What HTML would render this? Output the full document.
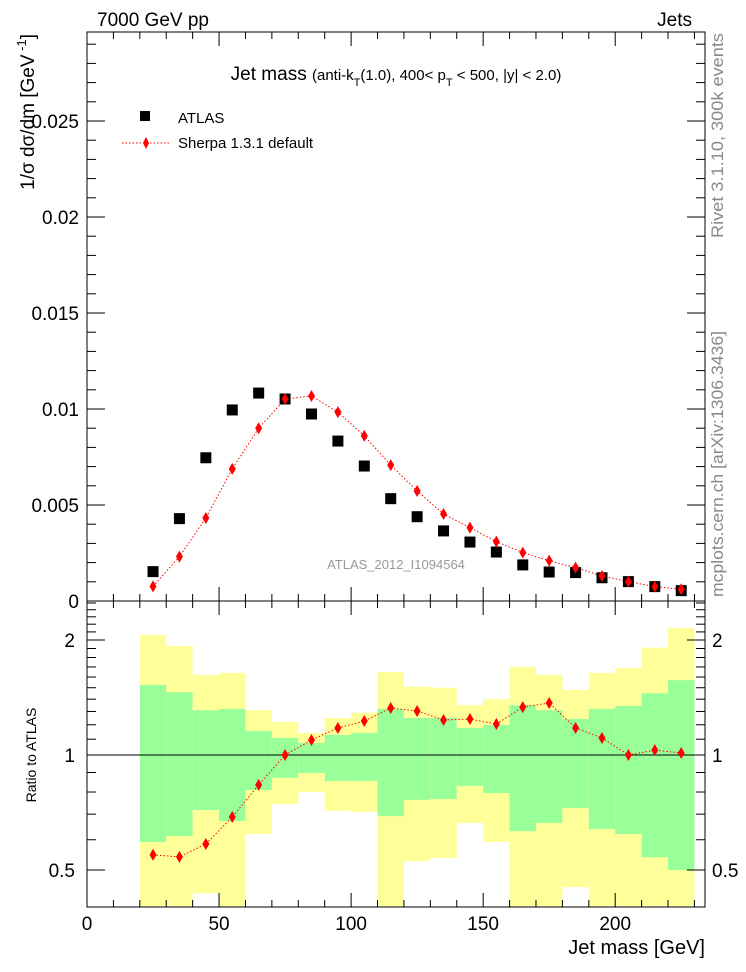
<!DOCTYPE html>
<html><head><meta charset="utf-8">
<style>
html,body{margin:0;padding:0;background:#fff;}
svg{display:block;font-family:"Liberation Sans",Arial,sans-serif;}
</style></head>
<body>
<svg id="chart" width="746" height="972" viewBox="0 0 746 972" xmlns="http://www.w3.org/2000/svg">
  <g id="bands"></g>
  <g id="grid"></g>
  <g id="marks"></g>
  <text x="97" y="26" font-size="19">7000 GeV pp</text>
  <text x="692" y="26" font-size="19" text-anchor="end">Jets</text>
  <text x="396" y="80" font-size="19" text-anchor="middle">Jet mass <tspan font-size="15">(anti-k<tspan dy="6" font-size="11">T</tspan><tspan dy="-6">(1.0), 400&lt; p</tspan><tspan dy="6" font-size="11">T</tspan><tspan dy="-6"> &lt; 500, |y| &lt; 2.0)</tspan></tspan></text>
  <rect x="140" y="111" width="10" height="10" fill="#000"/>
  <text x="178" y="123" font-size="15">ATLAS</text>
  <line x1="122" y1="143" x2="170" y2="143" stroke="red" stroke-dasharray="1.5,2"/>
  <polygon points="146,137 149,143 146,149 143,143" fill="red"/>
  <text x="178" y="148" font-size="15">Sherpa 1.3.1 default</text>
  <text x="396" y="569" font-size="13" fill="#999" text-anchor="middle">ATLAS_2012_I1094564</text>
  <text transform="translate(723,238) rotate(-90)" font-size="16.5" fill="#888" textLength="205" lengthAdjust="spacingAndGlyphs">Rivet 3.1.10,  300k events</text>
  <text transform="translate(723,597) rotate(-90)" font-size="16.5" fill="#888" textLength="266" lengthAdjust="spacingAndGlyphs">mcplots.cern.ch [arXiv:1306.3436]</text>
  <text transform="translate(34,34) rotate(-90)" font-size="19" text-anchor="end">1/σ dσ/dm [GeV<tspan dy="-8" font-size="13"> -1</tspan><tspan dy="8">]</tspan></text>
  <text transform="translate(36,755) rotate(-90)" font-size="14" text-anchor="middle">Ratio to ATLAS</text>
  <text x="705" y="954" font-size="20" text-anchor="end">Jet mass [GeV]</text>
</svg>
<script>
const binLo = [20,30,40,50,60,70,80,90,100,110,120,130,140,150,160,170,180,190,200,210,220];
const atlas = [0.00153,0.00429,0.00746,0.00995,0.01083,0.01052,0.00974,0.00833,0.00703,0.00533,0.00439,0.00365,0.00307,0.00255,0.00188,0.00151,0.00148,0.00121,0.00101,0.00075,0.00054];
const sherpa = [0.00076,0.00231,0.00432,0.00688,0.00900,0.01052,0.01068,0.00984,0.00860,0.00708,0.00573,0.00453,0.00382,0.00309,0.00252,0.00210,0.00174,0.00130,0.00101,0.00075,0.00061];
const ratio = [0.548,0.541,0.585,0.688,0.835,1.0,1.095,1.177,1.227,1.327,1.304,1.235,1.242,1.205,1.335,1.368,1.177,1.108,1.0,1.03,1.012];
const yellowHi = [2.06,1.93,1.62,1.64,1.31,1.22,1.142,1.25,1.29,1.65,1.51,1.50,1.35,1.40,1.70,1.62,1.48,1.64,1.69,1.91,2.15];
const greenHi = [1.525,1.46,1.31,1.32,1.156,1.108,1.075,1.128,1.142,1.32,1.25,1.25,1.177,1.198,1.35,1.31,1.242,1.32,1.344,1.45,1.57];
const greenLo = [0.592,0.614,0.718,0.672,0.81,0.871,0.897,0.855,0.855,0.692,0.763,0.767,0.83,0.795,0.632,0.664,0.726,0.64,0.621,0.54,0.50];
const yellowLo = [0.38,0.38,0.435,0.38,0.621,0.744,0.80,0.714,0.71,0.38,0.528,0.537,0.664,0.592,0.38,0.38,0.451,0.38,0.38,0.38,0.38];
const xTicks = [0,50,100,150,200];
const yTicks = [0,0.005,0.01,0.015,0.02,0.025];
const yTickLabels = ["0","0.005","0.01","0.015","0.02","0.025"];
const rTicks = [0.5,1,2];
const rTickLabels = ["0.5","1","2"];

const L=87,R=705,T=32,MB=601,RB=907;
const xs=v=>L+(v/234)*(R-L);
const ys=v=>MB-v/0.005*96;
const rs=v=>755-115*Math.log2(v);
const NS="http://www.w3.org/2000/svg";
function mk(parent,tag,attrs){const e=document.createElementNS(NS,tag);for(const k in attrs)e.setAttribute(k,attrs[k]);parent.appendChild(e);return e;}
const bands=document.getElementById('bands'),grid=document.getElementById('grid'),marks=document.getElementById('marks');
const clipR=v=>Math.min(Math.max(v,0.402),2.53);
binLo.forEach((lo,i)=>{
  const x0=xs(lo),x1=xs(lo+10);
  const y=mk(bands,'rect',{x:x0,y:rs(clipR(yellowHi[i])),width:x1-x0,height:rs(clipR(yellowLo[i]))-rs(clipR(yellowHi[i])),fill:'#ffff99'});
  
  
  const g=mk(bands,'rect',{x:x0,y:rs(clipR(greenHi[i])),width:x1-x0,height:rs(clipR(greenLo[i]))-rs(clipR(greenHi[i])),fill:'#99ff99'});
  
  
});
mk(grid,'rect',{x:L,y:T,width:R-L,height:MB-T,fill:'none',stroke:'#000','stroke-width':1});
mk(grid,'rect',{x:L,y:MB,width:R-L,height:RB-MB,fill:'none',stroke:'#000','stroke-width':1});
mk(grid,'line',{x1:L,x2:R,y1:rs(1),y2:rs(1),stroke:'#000','stroke-width':1});
for(let v=0;v<=230;v+=10){
  const x=xs(v),len=v%50===0?14:7;
  [[T,1],[MB,-1],[MB,1],[RB,-1]].forEach(([y0,d])=>mk(grid,'line',{x1:x,x2:x,y1:y0,y2:y0+d*len,stroke:'#000'}));
}
xTicks.forEach(v=>{const t=mk(grid,'text',{x:xs(v),y:930,'font-size':19,'text-anchor':'middle'});t.textContent=v;

});
for(let k=0;k<=29;k++){
  const v=k*0.001,y=ys(v),len=k%5===0?18:9;
  mk(grid,'line',{x1:L,x2:L+len,y1:y,y2:y,stroke:'#000'});
  mk(grid,'line',{x1:R,x2:R-len,y1:y,y2:y,stroke:'#000'});
}
yTicks.forEach((v,i)=>{const t=mk(grid,'text',{x:79,y:ys(v)+7,'font-size':19,'text-anchor':'end'});t.textContent=yTickLabels[i];

});
const rminor=[0.5,0.6,0.7,0.8,0.9,1,1.1,1.2,1.3,1.4,1.5,1.6,1.7,1.8,1.9,2,2.1,2.2,2.3,2.4,2.5];
rminor.forEach(v=>{const y=rs(v),len=(v===0.5||v===1||v===2)?18:9;
  mk(grid,'line',{x1:L,x2:L+len,y1:y,y2:y,stroke:'#000'});
  mk(grid,'line',{x1:R,x2:R-len,y1:y,y2:y,stroke:'#000'});});
rTicks.forEach((v,i)=>{
  const t=mk(grid,'text',{x:75,y:rs(v)+7,'font-size':19,'text-anchor':'end'});t.textContent=rTickLabels[i];
  
  
  const t2=mk(grid,'text',{x:712,y:rs(v)+7,'font-size':19});t2.textContent=rTickLabels[i];
  
  
});
function diamond(x,y,name){const p=mk(marks,'polygon',{points:`${x},${y-6} ${x+3.5},${y} ${x},${y+6} ${x-3.5},${y}`,fill:'red'});

}
const mids=binLo.map(v=>v+5);
mk(marks,'polyline',{points:mids.map((m,i)=>xs(m)+','+ys(sherpa[i])).join(' '),fill:'none',stroke:'red','stroke-dasharray':'1.5,2'});
mk(marks,'polyline',{points:mids.map((m,i)=>xs(m)+','+rs(ratio[i])).join(' '),fill:'none',stroke:'red','stroke-dasharray':'1.5,2'});
mids.forEach((m,i)=>{
  const r=mk(marks,'rect',{x:xs(m)-5.5,y:ys(atlas[i])-5.5,width:11,height:11,fill:'#000'});
  
  
  diamond(xs(m),ys(sherpa[i]),'sherpa-point');
  diamond(xs(m),rs(ratio[i]),'ratio-point');
});
</script>
</body></html>
